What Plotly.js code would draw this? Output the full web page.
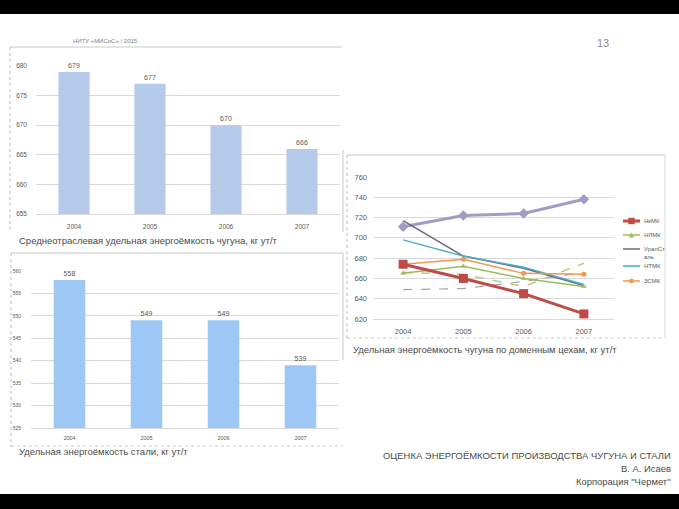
<!DOCTYPE html>
<html>
<head>
<meta charset="utf-8">
<script src="https://cdn.plot.ly/plotly-3.0.1.min.js"></script>
<style>
html,body{margin:0;padding:0;background:#fff;}
#chart{width:679px;height:509px;}
</style>
</head>
<body>
<div id="chart"></div>
<script>
// ---- data ----
const years = ['2004', '2005', '2006', '2007'];
const ironAvg = [679, 677, 670, 666];          // Среднеотраслевая удельная энергоёмкость чугуна
const steelAvg = [558, 549, 549, 539];         // Удельная энергоёмкость стали
const nkmk = [674, 660, 645, 625];             // НкМК
const nlmk = [665, 672, 660, 652];             // НЛМК
const uralstal = [717, 682, 670, 653];         // УралСталь
const ntmk = [698, 682, 671, 654];             // НТМК
const zsmk = [674, 679, 665, 664];             // ЗСМК
const unlabeledA = [711, 722, 724, 738];       // series without legend entry (diamonds)
const unlabeledB = [649, 650, 657, 666];       // dashed grey, no legend entry
const unlabeledC = [666, 664, 652, 675];       // dashed green, no legend entry
const ironTicks = [655, 660, 665, 670, 675, 680];
const steelTicks = [525, 530, 535, 540, 545, 550, 555, 560];
const shopTicks = [620, 640, 660, 680, 700, 720, 740, 760];
const legendNames = ['НкМК', 'НЛМК', 'УралСт<br>аль', 'НТМК', 'ЗСМК'];

// ---- helpers (pixel -> paper) ----
const W = 679, H = 509;
const px = x => x / W;
const py = y => 1 - y / H;
const FONT = 'Liberation Sans, Arial, sans-serif';
const TXT = '#595959';

const C = {nkmk: '#BE4B48', nlmk: '#9BBB59', ural: '#6B6880', ntmk: '#4BACC6', zsmk: '#F79646', lav: '#A09CC6'};

const traces = [
  {type: 'bar', x: years, y: ironAvg, xaxis: 'x', yaxis: 'y', showlegend: false,
   marker: {color: '#B6CAEA'}, text: ironAvg.map(String), textposition: 'outside',
   cliponaxis: false, textfont: {size: 7, color: TXT, family: FONT}, hoverinfo: 'skip'},
  {type: 'bar', x: years, y: steelAvg, xaxis: 'x2', yaxis: 'y2', showlegend: false,
   marker: {color: '#9DC8F5'}, text: steelAvg.map(String), textposition: 'outside',
   cliponaxis: false, textfont: {size: 7, color: TXT, family: FONT}, hoverinfo: 'skip'},
  {type: 'scatter', mode: 'lines', x: years, y: unlabeledB, xaxis: 'x3', yaxis: 'y3', showlegend: false,
   line: {color: '#A6A6A6', width: 1.2, dash: 'dash'}},
  {type: 'scatter', mode: 'lines', x: years, y: unlabeledC, xaxis: 'x3', yaxis: 'y3', showlegend: false,
   line: {color: '#B9CC8A', width: 1.5, dash: 'dash'}},
  {type: 'scatter', mode: 'lines+markers', x: years, y: unlabeledA, xaxis: 'x3', yaxis: 'y3', showlegend: false,
   line: {color: C.lav, width: 3}, marker: {symbol: 'diamond', size: 8, color: C.lav}},
  {type: 'scatter', mode: 'lines', x: years, y: uralstal, xaxis: 'x3', yaxis: 'y3', name: legendNames[2], showlegend: false,
   line: {color: C.ural, width: 1.5}},
  {type: 'scatter', mode: 'lines', x: years, y: ntmk, xaxis: 'x3', yaxis: 'y3', name: legendNames[3], showlegend: false,
   line: {color: C.ntmk, width: 1.5}},
  {type: 'scatter', mode: 'lines+markers', x: years, y: nlmk, xaxis: 'x3', yaxis: 'y3', name: legendNames[1], showlegend: false,
   line: {color: C.nlmk, width: 1.5}, marker: {symbol: 'triangle-up', size: 5, color: C.nlmk}},
  {type: 'scatter', mode: 'lines+markers', x: years, y: zsmk, xaxis: 'x3', yaxis: 'y3', name: legendNames[4], showlegend: false,
   line: {color: C.zsmk, width: 1.5}, marker: {symbol: 'circle', size: 5, color: C.zsmk}},
  {type: 'scatter', mode: 'lines+markers', x: years, y: nkmk, xaxis: 'x3', yaxis: 'y3', name: legendNames[0], showlegend: false,
   line: {color: C.nkmk, width: 3}, marker: {symbol: 'square', size: 9, color: C.nkmk}}
];

const gridC = '#D9D9D9';
function catAxis(domain, anchor, size, standoff) {
  return {domain: domain, anchor: anchor, type: 'category', showgrid: false, zeroline: false,
    showline: true, linecolor: gridC, linewidth: 1, ticks: '', ticklabelstandoff: standoff,
    tickfont: {size: size, color: TXT, family: FONT}, fixedrange: true};
}
function valAxis(domain, anchor, range, ticks, size, standoff) {
  return {domain: domain, anchor: anchor, range: range, tickvals: ticks, ticktext: ticks.map(String),
    showgrid: true, gridcolor: gridC, gridwidth: 1, zeroline: false, showline: false, ticks: '',
    ticklabelstandoff: standoff, tickfont: {size: size, color: TXT, family: FONT}, fixedrange: true};
}

// ---- manual legend for the blast-furnace chart ----
const legendRows = [
  {y: 221, color: C.nkmk, w: 3, mk: 'square', size: 3.2},
  {y: 235, color: C.nlmk, w: 1.5, mk: 'triangle', size: 2.5},
  {y: 249, color: C.ural, w: 1.5, mk: null},
  {y: 266, color: C.ntmk, w: 1.5, mk: null},
  {y: 281, color: C.zsmk, w: 1.5, mk: 'circle', size: 2.3}
];
const legendShapes = [];
const legendAnn = [];
legendRows.forEach((r, i) => {
  legendShapes.push({type: 'line', xref: 'paper', yref: 'paper', x0: px(623), x1: px(640), y0: py(r.y), y1: py(r.y),
    line: {color: r.color, width: r.w}});
  const cx = 631.5, s = r.size;
  if (r.mk === 'square') {
    legendShapes.push({type: 'rect', xref: 'paper', yref: 'paper', x0: px(cx - s), x1: px(cx + s), y0: py(r.y + s), y1: py(r.y - s),
      fillcolor: r.color, line: {width: 0}});
  } else if (r.mk === 'circle') {
    legendShapes.push({type: 'circle', xref: 'paper', yref: 'paper', x0: px(cx - s), x1: px(cx + s), y0: py(r.y + s), y1: py(r.y - s),
      fillcolor: r.color, line: {width: 0}});
  } else if (r.mk === 'triangle') {
    legendShapes.push({type: 'path', xref: 'paper', yref: 'paper',
      path: `M ${px(cx - s)} ${py(r.y + s)} L ${px(cx + s)} ${py(r.y + s)} L ${px(cx)} ${py(r.y - s)} Z`,
      fillcolor: r.color, line: {width: 0}});
  }
  legendAnn.push({text: legendNames[i], xref: 'paper', yref: 'paper', x: px(642), y: py(r.y), xanchor: 'left',
    yanchor: i === 2 ? 'top' : 'middle', yshift: i === 2 ? 5 : 0, align: 'left', showarrow: false,
    font: {size: 6, color: TXT, family: FONT}});
});

const layout = {
  width: W, height: H, margin: {l: 0, r: 0, t: 0, b: 0, autoexpand: false},
  paper_bgcolor: '#ffffff', plot_bgcolor: 'rgba(0,0,0,0)',
  font: {family: FONT, color: TXT},
  bargap: 0.59,
  showlegend: false,
  xaxis: catAxis([px(36), px(340)], 'y', 6.5, 6),
  yaxis: valAxis([py(214), py(66)], 'x', [655, 680], ironTicks, 6.5, 8),
  xaxis2: catAxis([px(31), px(339)], 'y2', 5.5, 4),
  yaxis2: valAxis([py(428), py(271)], 'x2', [525, 560], steelTicks, 5, 9),
  xaxis3: Object.assign(catAxis([px(373), px(614)], 'y3', 7.5, 5), {range: [-0.5, 3.5]}),
  yaxis3: valAxis([py(319), py(177)], 'x3', [620, 760], shopTicks, 7.5, 5),
  shapes: [
    // black bands
    {type: 'rect', xref: 'paper', yref: 'paper', x0: 0, x1: 1, y0: py(0), y1: py(14), fillcolor: '#000', line: {width: 0}},
    {type: 'rect', xref: 'paper', yref: 'paper', x0: 0, x1: 1, y0: py(494), y1: py(509), fillcolor: '#000', line: {width: 0}},
    // chart 1 frame
    {type: 'line', xref: 'paper', yref: 'paper', x0: px(10), x1: px(342), y0: py(47), y1: py(47), line: {color: '#C8C8C8', width: 1}},
    {type: 'line', xref: 'paper', yref: 'paper', x0: px(10), x1: px(10), y0: py(47), y1: py(232), line: {color: '#BBBBBB', width: 1, dash: 'dot'}},
    {type: 'line', xref: 'paper', yref: 'paper', x0: px(343), x1: px(343), y0: py(150), y1: py(232), line: {color: '#C8C8C8', width: 1}},
    // chart 2 frame
    {type: 'line', xref: 'paper', yref: 'paper', x0: px(11), x1: px(343), y0: py(253), y1: py(253), line: {color: '#C8C8C8', width: 1}},
    {type: 'line', xref: 'paper', yref: 'paper', x0: px(11), x1: px(11), y0: py(253), y1: py(447), line: {color: '#BBBBBB', width: 1, dash: 'dot'}},
    {type: 'line', xref: 'paper', yref: 'paper', x0: px(11), x1: px(343), y0: py(446), y1: py(446), line: {color: '#CCCCCC', width: 1, dash: 'dot'}},
    {type: 'line', xref: 'paper', yref: 'paper', x0: px(343), x1: px(343), y0: py(253), y1: py(360), line: {color: '#C8C8C8', width: 1}},
    // chart 3 frame
    {type: 'line', xref: 'paper', yref: 'paper', x0: px(347), x1: px(665), y0: py(155), y1: py(155), line: {color: '#C8C8C8', width: 1}},
    {type: 'line', xref: 'paper', yref: 'paper', x0: px(347), x1: px(347), y0: py(155), y1: py(338), line: {color: '#BBBBBB', width: 1, dash: 'dot'}},
    {type: 'line', xref: 'paper', yref: 'paper', x0: px(347), x1: px(665), y0: py(338), y1: py(338), line: {color: '#CCCCCC', width: 1, dash: 'dot'}},
    {type: 'line', xref: 'paper', yref: 'paper', x0: px(665), x1: px(665), y0: py(155), y1: py(338), line: {color: '#D8D8D8', width: 1}}
  ].concat(legendShapes),
  annotations: [
    {text: 'НИТУ «МИСиС» / 2015', xref: 'paper', yref: 'paper', x: px(105), y: py(41), xanchor: 'center', yanchor: 'middle',
     showarrow: false, font: {size: 6, color: '#7F7F7F', family: FONT}},
    {text: '13', xref: 'paper', yref: 'paper', x: px(603), y: py(43), xanchor: 'center', yanchor: 'middle',
     showarrow: false, font: {size: 11, color: '#8C8C8C', family: FONT}},
    {text: 'Среднеотраслевая удельная энергоёмкость чугуна, кг ут/т', xref: 'paper', yref: 'paper', x: px(17), y: py(240),
     xanchor: 'left', yanchor: 'middle', showarrow: false, font: {size: 9.5, color: '#4A4A4A', family: FONT}},
    {text: 'Удельная энергоёмкость стали, кг ут/т', xref: 'paper', yref: 'paper', x: px(17), y: py(451),
     xanchor: 'left', yanchor: 'middle', showarrow: false, font: {size: 9.5, color: '#4A4A4A', family: FONT}},
    {text: 'Удельная энергоёмкость чугуна по доменным цехам, кг ут/т', xref: 'paper', yref: 'paper', x: px(351), y: py(349),
     xanchor: 'left', yanchor: 'middle', showarrow: false, font: {size: 9.5, color: '#4A4A4A', family: FONT}},
    {text: 'ОЦЕНКА ЭНЕРГОЁМКОСТИ ПРОИЗВОДСТВА ЧУГУНА И СТАЛИ', xref: 'paper', yref: 'paper', x: px(673), y: py(455),
     xanchor: 'right', yanchor: 'middle', showarrow: false, font: {size: 9.45, color: '#4A4A4A', family: FONT}},
    {text: 'В. А. Исаев', xref: 'paper', yref: 'paper', x: px(673), y: py(468),
     xanchor: 'right', yanchor: 'middle', showarrow: false, font: {size: 9.45, color: '#4A4A4A', family: FONT}},
    {text: 'Корпорация "Чермет"', xref: 'paper', yref: 'paper', x: px(673), y: py(481),
     xanchor: 'right', yanchor: 'middle', showarrow: false, font: {size: 9.45, color: '#4A4A4A', family: FONT}}
  ].concat(legendAnn)
};

Plotly.newPlot('chart', traces, layout, {staticPlot: true, displayModeBar: false});
</script>
</body>
</html>
